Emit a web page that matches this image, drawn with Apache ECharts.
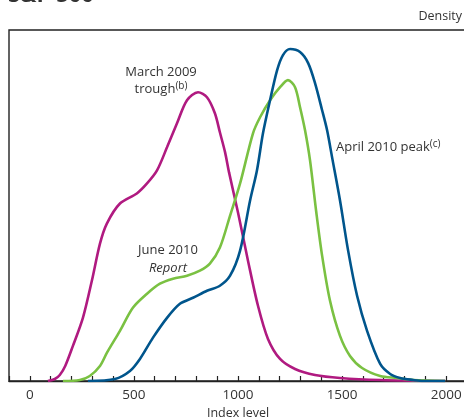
<!DOCTYPE html>
<html>
<head>
<meta charset="utf-8">
<script src="https://cdn.jsdelivr.net/npm/echarts@6/dist/echarts.min.js"></script>
<style>
  html, body { margin: 0; padding: 0; background: #fff; }
  #chart { width: 464px; height: 417px; }
</style>
</head>
<body>
<div id="chart"></div>
<script>
// S&P 500 option-implied probability densities (index level vs density)
const marchTroughIndex = [87, 120, 144, 170, 207, 255, 298, 337, 370, 433, 514, 563, 611, 659, 707, 755, 808, 851, 889, 913, 938, 957, 1000, 1048, 1096, 1144, 1202, 1274, 1370, 1490, 1683, 1995];
const marchTroughDensity = [0, 2, 6, 15, 35, 63, 100, 137, 157, 177, 187, 197, 210, 233, 257, 280, 288, 283, 267, 248, 228, 208, 168, 120, 75, 42, 22, 12, 6, 3, 1, 0];

const aprilPeakIndex = [279, 409, 481, 529, 591, 659, 721, 784, 851, 913, 962, 1010, 1058, 1091, 1120, 1154, 1188, 1216, 1250, 1298, 1337, 1370, 1404, 1428, 1452, 1490, 1529, 1572, 1620, 1683, 1731, 1779, 1842, 1890, 1995];
const aprilPeakDensity = [0, 2, 10, 22, 43, 63, 77, 83, 90, 95, 105, 130, 180, 210, 247, 280, 310, 325, 331, 328, 317, 297, 270, 250, 223, 180, 130, 85, 50, 17, 7, 3, 1, 0, 0];

const juneReportIndex = [159, 240, 288, 337, 370, 433, 495, 563, 625, 688, 755, 817, 865, 913, 962, 1010, 1072, 1106, 1154, 1202, 1240, 1274, 1298, 1322, 1346, 1375, 1404, 1442, 1490, 1538, 1596, 1683, 1764, 1842, 1995];
const juneReportDensity = [0, 1, 5, 15, 28, 50, 73, 87, 97, 102, 105, 110, 117, 133, 165, 197, 247, 263, 280, 293, 300, 293, 273, 250, 220, 170, 125, 80, 45, 25, 13, 5, 3, 1, 0];

const xLabelValues = [0, 500, 1000, 1500, 2000];

const pair = (xs, ys) => xs.map((x, i) => [x, ys[i]]);

const FONT = '"Open Sans", "Noto Sans", sans-serif';
const TEXT = '#333333';

const chart = echarts.init(document.getElementById('chart'), null, { renderer: 'canvas' });

const lineSeries = (name, data, color) => ({
  name, type: 'line', data, smooth: 0.3, symbol: 'none',
  lineStyle: { color, width: 2.6 }, z: 3
});

chart.setOption({
  animation: false,
  backgroundColor: '#fff',
  grid: {
    left: 9, right: -3, top: 30, bottom: 36,
    outerBoundsMode: 'none', containLabel: false,
    show: true, borderColor: '#222', borderWidth: 1.4, backgroundColor: 'transparent'
  },
  xAxis: {
    type: 'value', min: -100, max: 2100, interval: 100,
    axisLine: { show: true, lineStyle: { color: '#222', width: 1.4 } },
    axisTick: { show: true, inside: true, length: 5, lineStyle: { color: '#222', width: 1.2 } },
    splitLine: { show: false },
    axisLabel: {
      interval: 0, margin: 7, color: TEXT, fontFamily: FONT, fontSize: 13.5,
      formatter: v => (xLabelValues.includes(v) ? String(v) : '')
    },
    name: 'Index level', nameLocation: 'middle', nameGap: 23,
    nameTextStyle: { color: TEXT, fontFamily: FONT, fontSize: 12.5 }
  },
  yAxis: {
    type: 'value', min: 0, max: 350,
    axisLine: { show: false }, axisTick: { show: false },
    axisLabel: { show: false }, splitLine: { show: false }
  },
  series: [
    lineSeries('March 2009 trough', pair(marchTroughIndex, marchTroughDensity), '#B01A80'),
    lineSeries('June 2010 Report', pair(juneReportIndex, juneReportDensity), '#7AC142'),
    lineSeries('April 2010 peak', pair(aprilPeakIndex, aprilPeakDensity), '#00558C')
  ],
  graphic: [
    {
      type: 'text', left: 8, top: -15,
      style: { text: 'S&P 500', fill: TEXT, font: 'bold 22px ' + FONT }
    },
    {
      type: 'text', right: 2, top: 10,
      style: { text: 'Density', fill: TEXT, font: '12.5px ' + FONT, align: 'right' }
    },
    {
      type: 'text', x: 161, y: 64,
      style: {
        text: 'March 2009\n{t|trough}{s|(b)}', fill: TEXT, font: '13px ' + FONT,
        align: 'center', lineHeight: 17,
        rich: {
          t: { fontFamily: FONT, fontSize: 13, fill: TEXT },
          s: { fontFamily: FONT, fontSize: 10, fill: TEXT, verticalAlign: 'top', padding: [0, 0, 6, 0] }
        }
      }
    },
    {
      type: 'text', x: 168, y: 241,
      style: {
        text: 'June 2010\n{i|Report}', fill: TEXT, font: '13px ' + FONT,
        align: 'center', lineHeight: 18,
        rich: { i: { fontFamily: FONT, fontSize: 13, fontStyle: 'italic', fill: TEXT } }
      }
    },
    {
      type: 'text', x: 336, y: 139,
      style: {
        text: 'April 2010 peak{s|(c)}', fill: TEXT, font: '13px ' + FONT,
        rich: { s: { fontFamily: FONT, fontSize: 10, fill: TEXT, verticalAlign: 'top', padding: [0, 0, 6, 0] } }
      }
    }
  ]
});
</script>
</body>
</html>
